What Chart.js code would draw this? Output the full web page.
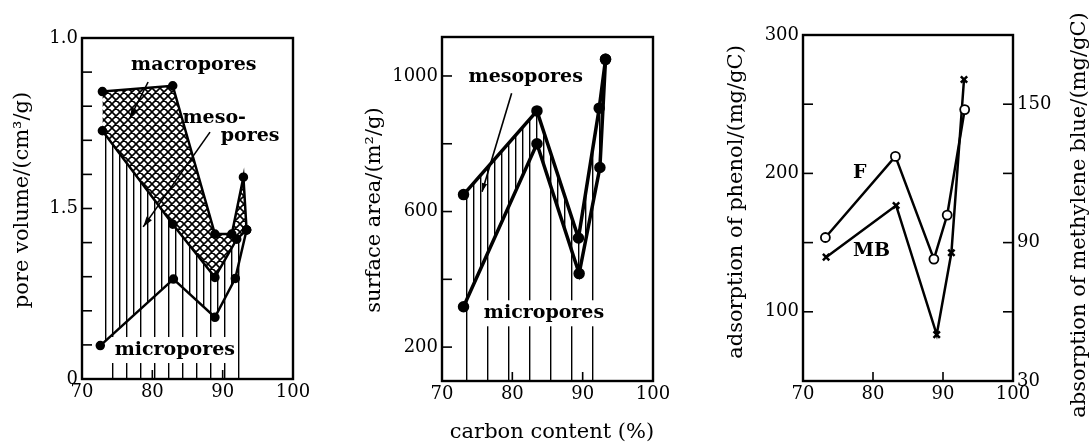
<!DOCTYPE html>
<html>
<head>
<meta charset="utf-8">
<script src="https://cdn.jsdelivr.net/npm/chart.js@4.4.1/dist/chart.umd.min.js"></script>
<style>
  body { margin: 0; background: #fff; }
  #wrap { position: relative; width: 1089px; height: 443px; overflow: hidden; background: #fff; }
  canvas { position: absolute; top: 0; }
</style>
</head>
<body>
<div id="wrap">
  <canvas id="c1" width="340" height="443" style="left:0px"></canvas>
  <canvas id="c2" width="360" height="443" style="left:340px"></canvas>
  <canvas id="c3" width="389" height="443" style="left:700px"></canvas>
</div>
<script>
// ---- panel 1: pore volume ----
const p1MicroC = [72.6, 83.0, 88.9, 91.8, 93.4];
const p1Micro  = [0.098, 0.293, 0.181, 0.295, 0.437];
const p1MesoC  = [72.9, 82.9, 88.9, 92.0, 93.4];
const p1Meso   = [0.728, 0.454, 0.298, 0.410, 0.437];
const p1TotalC = [72.9, 82.9, 88.9, 91.3, 92.95, 93.4];
const p1Total  = [0.843, 0.860, 0.425, 0.425, 0.592, 0.437];
const p1YTicks = [0, 0.1, 0.2, 0.3, 0.4, 0.5, 0.6, 0.7, 0.8, 0.9, 1.0];
const p1YLabels = ['0', '', '', '', '', '1.5', '', '', '', '', '1.0'];

// ---- panel 2: surface area ----
const p2MicroC = [73.06, 83.5, 89.5, 92.45, 93.25];
const p2Micro  = [319, 800, 417, 730, 1049];
const p2MesoC  = [73.06, 83.5, 89.4, 92.35, 93.25];
const p2Meso   = [650, 897, 522, 905, 1049];
const p2YTicks = [200, 400, 600, 800, 1000];
const p2YLabels = ['200', '', '600', '', '1000'];

// ---- panel 3: adsorption ----
const p3PhenolC = [73.2, 83.2, 88.7, 90.6, 93.1];
const p3Phenol  = [153.7, 212.3, 138.1, 169.9, 246.1];
const p3BlueC   = [73.3, 83.3, 89.1, 91.2, 93.0];
const p3Blue    = [83.7, 106.1, 50.1, 85.6, 160.7];
const p3LeftTicks = [50, 100, 150, 200, 250, 300];
const p3LeftLabels = ['', '100', '', '200', '', '300'];
const p3RightTicks = [30, 60, 90, 120, 150, 180];
const p3RightLabels = ['30', '', '90', '', '150', ''];

const xTicks = [70, 80, 90, 100];
const xLabels = ['70', '80', '90', '100'];

const pts = (xs, ys) => xs.map((x, i) => ({ x: x, y: ys[i] }));

Chart.defaults.font.family = "'DejaVu Serif', serif";
Chart.defaults.color = '#000';

// hatch patterns
function vLines(step) {
  const c = document.createElement('canvas');
  c.width = step; c.height = 4;
  const g = c.getContext('2d');
  g.fillStyle = '#000';
  g.fillRect(0, 0, 1.4, 4);
  return g.createPattern(c, 'repeat');
}
function crossHatch(s) {
  const c = document.createElement('canvas');
  c.width = s; c.height = s;
  const g = c.getContext('2d');
  g.strokeStyle = '#000';
  g.lineWidth = 1.6;
  g.beginPath();
  for (const o of [-s, 0, s]) {
    g.moveTo(o - 1, -1); g.lineTo(o + s + 1, s + 1);
    g.moveTo(o - 1, s + 1); g.lineTo(o + s + 1, -1);
  }
  g.stroke();
  return g.createPattern(c, 'repeat');
}

function arrow(ctx, x1, y1, x2, y2, head) {
  ctx.beginPath(); ctx.moveTo(x1, y1); ctx.lineTo(x2, y2); ctx.stroke();
  const a = Math.atan2(y2 - y1, x2 - x1);
  ctx.beginPath();
  ctx.moveTo(x2, y2);
  ctx.lineTo(x2 - head * Math.cos(a - 0.3), y2 - head * Math.sin(a - 0.3));
  ctx.lineTo(x2 - head * Math.cos(a + 0.3), y2 - head * Math.sin(a + 0.3));
  ctx.closePath(); ctx.fill();
}

// frame, inward ticks, labels, arrows, titles
const decor = {
  id: 'decor',
  afterDatasetsDraw(chart, args, o) {
    const ctx = chart.ctx, a = chart.chartArea, sx = chart.scales.x;
    ctx.save();
    ctx.strokeStyle = '#000'; ctx.fillStyle = '#000';
    ctx.lineWidth = 1.6;
    (o.ticks || []).forEach(t => {
      const s = chart.scales[t.id];
      s.ticks.forEach(tk => {
        if (tk.value <= s.min || tk.value >= s.max) return;
        const p = s.getPixelForValue(tk.value);
        ctx.beginPath();
        if (t.side === 'bottom') { ctx.moveTo(p, a.bottom); ctx.lineTo(p, a.bottom - 9); }
        else if (t.side === 'left') { ctx.moveTo(a.left, p); ctx.lineTo(a.left + 10, p); }
        else { ctx.moveTo(a.right, p); ctx.lineTo(a.right - 10, p); }
        ctx.stroke();
      });
    });
    ctx.lineWidth = 2.4;
    ctx.strokeRect(a.left, a.top, a.right - a.left, a.bottom - a.top);

    ctx.lineWidth = 1.6;
    (o.arrows || []).forEach(r => {
      const sy = chart.scales[r.yId || 'y'];
      arrow(ctx, sx.getPixelForValue(r.from[0]), sy.getPixelForValue(r.from[1]),
        sx.getPixelForValue(r.to[0]), sy.getPixelForValue(r.to[1]), r.head);
    });

    ctx.textAlign = 'center'; ctx.textBaseline = 'middle';
    (o.labels || []).forEach(l => {
      const sy = chart.scales[l.yId || 'y'];
      const px = sx.getPixelForValue(l.x), py = sy.getPixelForValue(l.y);
      ctx.font = 'bold ' + (l.size || 19) + "px 'DejaVu Serif', serif";
      if (l.bg) {
        const w = ctx.measureText(l.text).width;
        ctx.fillStyle = '#fff';
        ctx.fillRect(px - w / 2 - 3, py - 13, w + 6, 26);
        ctx.fillStyle = '#000';
      }
      ctx.fillText(l.text, px, py);
    });

    (o.titles || []).forEach(t => {
      ctx.save();
      ctx.translate(t.x, t.y);
      ctx.rotate(t.rot || 0);
      ctx.font = "21px 'DejaVu Serif', serif";
      ctx.fillText(t.text, 0, 0);
      ctx.restore();
    });
    ctx.restore();
  }
};

function xScale(h) {
  return {
    type: 'linear', min: 70, max: 100,
    afterBuildTicks: s => { s.ticks = xTicks.map(v => ({ value: v })); },
    afterFit: s => { s.height = h; },
    grid: { display: false, drawTicks: false },
    border: { display: false },
    ticks: { autoSkip: false, maxRotation: 0, padding: 3, font: { size: 18 }, callback: (v, i) => xLabels[i] }
  };
}
function yScale(pos, min, max, vals, labels, w) {
  return {
    type: 'linear', position: pos, min: min, max: max,
    afterBuildTicks: s => { s.ticks = vals.map(v => ({ value: v })); },
    afterFit: s => { s.width = w; },
    grid: { display: false, drawTicks: false },
    border: { display: false },
    ticks: { autoSkip: false, padding: 4, font: { size: 18 }, callback: (v, i) => labels[i] }
  };
}
const lineStyle = { borderColor: '#000', tension: 0, pointBackgroundColor: '#000', pointBorderColor: '#000' };
const common = {
  responsive: false, animation: false, devicePixelRatio: 1,
  plugins: { legend: { display: false }, tooltip: { enabled: false } }
};

// panel 1
new Chart(document.getElementById('c1'), {
  type: 'line',
  data: {
    datasets: [
      Object.assign({ data: pts(p1MicroC, p1Micro), fill: 'start', backgroundColor: vLines(14), borderWidth: 2.5, pointRadius: 3.5 }, lineStyle),
      Object.assign({ data: pts(p1MesoC, p1Meso), fill: '-1', backgroundColor: vLines(7), borderWidth: 2.5, pointRadius: 3.5 }, lineStyle),
      Object.assign({ data: pts(p1TotalC, p1Total), fill: '-1', backgroundColor: crossHatch(8), borderWidth: 2.5, pointRadius: 3.5 }, lineStyle)
    ]
  },
  options: Object.assign({}, common, {
    layout: { padding: { top: 38, right: 47, left: 0, bottom: 0 } },
    scales: { x: xScale(64), y: yScale('left', 0, 1, p1YTicks, p1YLabels, 82) },
    plugins: Object.assign({}, common.plugins, {
      decor: {
        ticks: [{ id: 'x', side: 'bottom' }, { id: 'y', side: 'left' }],
        arrows: [
          { from: [79.4, 0.871], to: [76.8, 0.765], head: 11 },
          { from: [88.2, 0.724], to: [78.7, 0.446], head: 11 }
        ],
        labels: [
          { text: 'macropores', x: 85.9, y: 0.921 },
          { text: 'meso-', x: 88.8, y: 0.765 },
          { text: 'pores', x: 93.9, y: 0.713 },
          { text: 'micropores', x: 83.2, y: 0.085, bg: true }
        ],
        titles: [{ text: 'pore volume/(cm³/g)', x: 23, y: 200, rot: -Math.PI / 2 }]
      }
    })
  }),
  plugins: [decor]
});

// panel 2
new Chart(document.getElementById('c2'), {
  type: 'line',
  data: {
    datasets: [
      Object.assign({ data: pts(p2MicroC, p2Micro), fill: 'start', backgroundColor: vLines(21), borderWidth: 3.5, pointRadius: 4 }, lineStyle),
      Object.assign({ data: pts(p2MesoC, p2Meso), fill: '-1', backgroundColor: vLines(7), borderWidth: 3.5, pointRadius: 4 }, lineStyle)
    ]
  },
  options: Object.assign({}, common, {
    layout: { padding: { top: 37, right: 47, left: 0, bottom: 0 } },
    scales: { x: xScale(62), y: yScale('left', 100, 1115, p2YTicks, p2YLabels, 102) },
    plugins: Object.assign({}, common.plugins, {
      decor: {
        ticks: [{ id: 'x', side: 'bottom' }, { id: 'y', side: 'left' }],
        arrows: [{ from: [79.9, 949], to: [75.7, 658.6], head: 9 }],
        labels: [
          { text: 'mesopores', x: 81.9, y: 998 },
          { text: 'micropores', x: 84.5, y: 299.8, bg: true }
        ],
        titles: [
          { text: 'surface area/(m²/g)', x: 35, y: 210, rot: -Math.PI / 2 },
          { text: 'carbon content (%)', x: 212, y: 433, rot: 0 }
        ]
      }
    })
  }),
  plugins: [decor]
});

// panel 3
new Chart(document.getElementById('c3'), {
  type: 'line',
  data: {
    datasets: [
      Object.assign({}, lineStyle, { data: pts(p3PhenolC, p3Phenol), yAxisID: 'y', borderWidth: 2.5, pointRadius: 4.5, pointBorderWidth: 1.8, pointBackgroundColor: '#fff', fill: false }),
      Object.assign({}, lineStyle, { data: pts(p3BlueC, p3Blue), yAxisID: 'y1', borderWidth: 2.5, pointStyle: 'crossRot', pointRadius: 4.5, pointBorderWidth: 2.5, fill: false })
    ]
  },
  options: Object.assign({}, common, {
    layout: { padding: { top: 35, right: 0, left: 0, bottom: 0 } },
    scales: {
      x: xScale(62),
      y: yScale('left', 50, 300, p3LeftTicks, p3LeftLabels, 103),
      y1: yScale('right', 30, 180, p3RightTicks, p3RightLabels, 76)
    },
    plugins: Object.assign({}, common.plugins, {
      decor: {
        ticks: [{ id: 'x', side: 'bottom' }, { id: 'y', side: 'left' }, { id: 'y1', side: 'right' }],
        labels: [
          { text: 'F', x: 78.1, y: 200.3 },
          { text: 'MB', x: 79.8, y: 144.1 }
        ],
        titles: [
          { text: 'adsorption of phenol/(mg/gC)', x: 37, y: 202, rot: -Math.PI / 2 },
          { text: 'absorption of methylene blue/(mg/gC)', x: 380, y: 215, rot: -Math.PI / 2 }
        ]
      }
    })
  }),
  plugins: [decor]
});
</script>
</body>
</html>
